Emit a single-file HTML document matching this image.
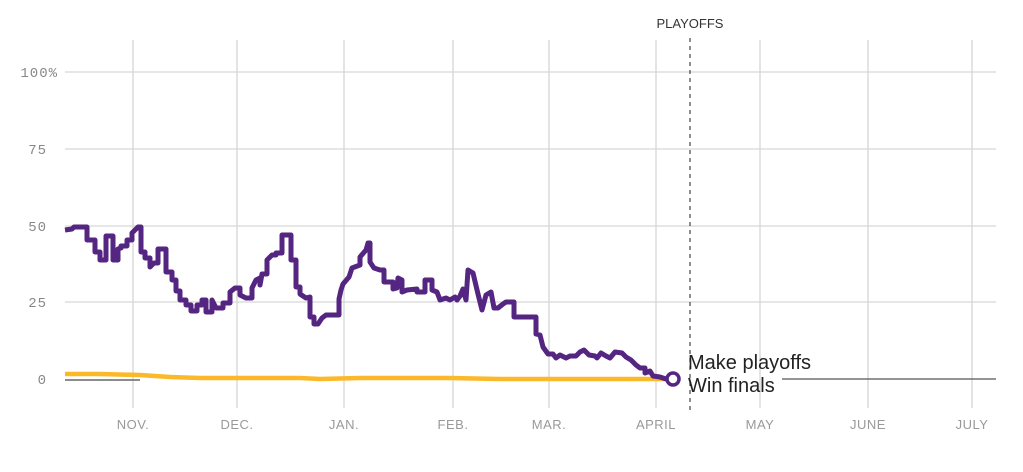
<!DOCTYPE html>
<html><head><meta charset="utf-8"><style>
body{margin:0;background:#fff;}
svg{display:block;font-family:"Liberation Sans",sans-serif;}
.g{stroke:#d6d6d6;stroke-width:1.3;}
.yl{font-size:14px;fill:#888;text-anchor:end;font-family:"Liberation Mono",monospace;letter-spacing:1px;}
.xl{font-size:13px;fill:#999;text-anchor:middle;letter-spacing:0.5px;}
</style></head><body>
<svg width="1023" height="472" viewBox="0 0 1023 472">
<g class="g">
<line x1="65" y1="72" x2="996" y2="72"/><line x1="65" y1="149" x2="996" y2="149"/>
<line x1="65" y1="226" x2="996" y2="226"/><line x1="65" y1="302" x2="996" y2="302"/>
<line x1="133" y1="40" x2="133" y2="408"/><line x1="237" y1="40" x2="237" y2="408"/>
<line x1="344" y1="40" x2="344" y2="408"/><line x1="453" y1="40" x2="453" y2="408"/>
<line x1="549" y1="40" x2="549" y2="408"/><line x1="656" y1="40" x2="656" y2="408"/>
<line x1="760" y1="40" x2="760" y2="408"/><line x1="868" y1="40" x2="868" y2="408"/>
<line x1="972" y1="40" x2="972" y2="408"/>
</g>
<line x1="690" y1="38" x2="690" y2="410" stroke="#444" stroke-width="1.2" stroke-dasharray="4,4"/>
<text x="690" y="28" font-size="13" fill="#333" text-anchor="middle">PLAYOFFS</text>
<text class="yl" x="58" y="77">100%</text><text class="yl" x="47" y="154">75</text>
<text class="yl" x="47" y="231">50</text><text class="yl" x="47" y="307">25</text>
<text class="yl" x="47" y="384">0</text>
<g class="xl"><text x="133" y="429">NOV.</text><text x="237" y="429">DEC.</text><text x="344" y="429">JAN.</text><text x="453" y="429">FEB.</text><text x="549" y="429">MAR.</text><text x="656" y="429">APRIL</text><text x="760" y="429">MAY</text><text x="868" y="429">JUNE</text><text x="972" y="429">JULY</text></g>
<line x1="65" y1="380" x2="140" y2="380" stroke="#666" stroke-width="1.5"/>
<line x1="782" y1="379" x2="996" y2="379" stroke="#555" stroke-width="1.3"/>
<polyline fill="none" stroke="#fbb829" stroke-width="4.5" points="65,374 100,374 140,375 170,377 200,378 300,378 320,379 360,378 450,378 500,379 560,379 640,379 666,379"/>
<polyline fill="none" stroke="#552582" stroke-width="5" stroke-linejoin="round" points="65,230 72,229 74,227 87,227 87,240 95,240 95,252 100,252 100,260 106,260 106,236 113,236 113,260 118,260 118,249 121,248 121,246 127,246 127,240 132,240 132,233 138,227 141,227 141,252 145,252 145,258 150,258 150,267 154,263 158,263 158,249 166,249 166,272 172,272 172,280 176,280 176,291 180,291 180,300 186,300 186,305 191,305 191,311 197,311 197,305 202,305 202,300 206,300 206,312 212,312 212,300 216,308 223,308 223,303 230,303 230,292 235,288 240,288 240,295 246,298 252,298 252,288 256,280 260,278 260,285 262,274 267,274 267,260 272,255 276,255 276,253 282,253 282,235 287,235 291,235 291,260 296,260 296,287 300,287 300,294 306,298 310,297 310,317 314,317 314,324 318,324 322,318 326,315 339,315 339,299 341,290 343,284 349,277 352,268 360,265 360,257 366,250 368,243 370,243 370,262 374,268 380,270 384,270 384,282 393,282 393,289 397,288 398,278 402,280 402,292 407,290 417,289 417,292 425,292 425,280 432,280 432,290 437,292 440,300 446,298 450,300 455,297 457,300 460,296 463,289 466,300 468,270 473,273 478,294 482,310 486,295 491,292 494,308 498,308 503,304 506,302 514,302 514,317 536,317 536,334 540,335 543,347 548,354 553,354 556,358 560,355 566,358 570,356 576,356 580,352 584,350 589,355 595,356 597,358 601,353 606,356 610,358 615,352 622,353 626,357 631,360 636,365 640,368 645,368 645,373 650,371 653,376 660,377 666,379 673,379"/>
<circle cx="673" cy="379" r="6" fill="#fff" stroke="#552582" stroke-width="3.5"/>
<text x="688" y="369" font-size="20" fill="#222">Make playoffs</text>
<text x="688" y="392" font-size="20" fill="#222">Win finals</text>
</svg>
</body></html>
